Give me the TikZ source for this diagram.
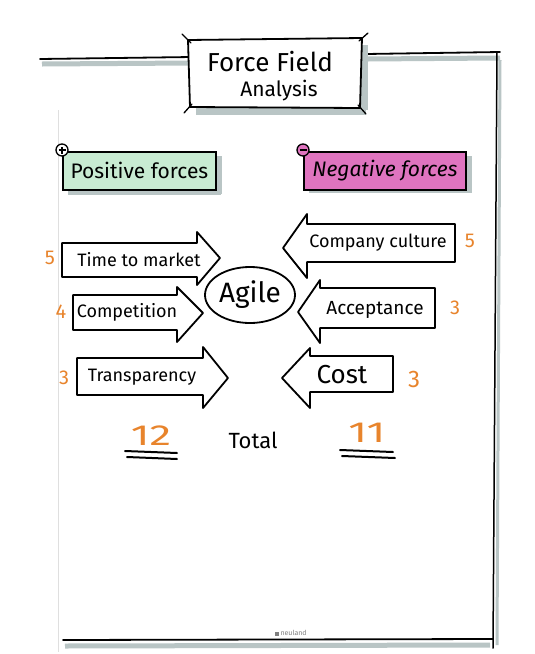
\documentclass[tikz,border=0pt]{standalone}
\usepackage{fontspec}
\setmainfont{Fira Sans}
\usetikzlibrary{shapes.geometric}
\definecolor{orng}{HTML}{E8842C}
\definecolor{shad}{HTML}{B9C5C5}
\definecolor{posg}{HTML}{C8EBD2}
\definecolor{negp}{HTML}{DF74BF}
\begin{document}
\begin{tikzpicture}[x=1pt,y=-1pt,
  ink/.style={draw=black,line width=1.8pt,line join=round,line cap=round},
  shadowline/.style={draw=shad,line width=5pt},
  arrowbox/.style={ink,fill=white},
  lbl/.style={font=\fontsize{18}{20}\selectfont},
  num/.style={text=orng,font=\fontsize{20}{22}\selectfont},
  big/.style={text=orng,font=\fontsize{29}{32}\selectfont},
  headbox/.style={draw,line width=1.8pt,minimum width=153pt,minimum height=38pt,anchor=north west,inner sep=0pt,font=\fontsize{21}{24}\selectfont},
  sign/.style={circle,draw,line width=1.3pt,inner sep=0pt,minimum size=12pt}]
\useasboundingbox (0,0) rectangle (535,654);
\fill[white] (0,0) rectangle (535,654);

% page frame
\draw[shadowline] (42,64) -- (192,63);
\draw[ink] (40,59) -- (192,57);
\draw[shadowline] (368,59) -- (500,58);
\draw[ink] (366,54) -- (500,52);
\draw[shad,line width=3pt] (500,60) -- (497,645);
\draw[ink,line width=1.5pt] (497,52) -- (493,648);
\draw[gray!25,line width=0.6pt] (58,110) -- (58,652);
\draw[shadowline] (65,646) -- (490,645);
\draw[ink] (63,640) -- (493,639);
\node[font=\fontsize{7}{8}\selectfont,text=gray] (logo) at (291,633) {\rule{4pt}{4pt}\,neuland};

% title box
\fill[shad] (196,107) rectangle (366,115);
\fill[shad] (360,45) rectangle (368,110);
\draw[ink,fill=white] (188,40) -- (362,38) -- (360,108) -- (190,107) -- cycle;
\draw[ink,line width=1.3pt] (182,34) -- (191,43);
\draw[ink,line width=1.3pt] (368,33) -- (359,41);
\draw[ink,line width=1.3pt] (184,113) -- (192,104);
\draw[ink,line width=1.3pt] (366,114) -- (358,105);
\node[font=\fontsize{26}{28}\selectfont] (title) at (270,62) {Force Field};
\node[font=\fontsize{21}{23}\selectfont] (title2) at (279,91) {Analysis};

% header boxes
\fill[shad] (68,187) rectangle (221,195);
\fill[shad] (214,156) rectangle (222,194);
\node[headbox,fill=posg] (pos) at (62,151) {Positive forces};
\node[sign,fill=white] (plus) at (62,150) {};
\draw[line width=1.2pt] ([xshift=-3.5pt]plus.center) -- ([xshift=3.5pt]plus.center);
\draw[line width=1.2pt] ([yshift=-3.5pt]plus.center) -- ([yshift=3.5pt]plus.center);
\fill[shad] (309,185) rectangle (472,193);
\fill[shad] (464,156) rectangle (472,192);
\node[headbox,fill=negp,minimum width=162pt] (neg) at (303,151) {\itshape Negative forces};
\node[sign,fill=negp] (minus) at (303,150) {};
\draw[line width=1.2pt] ([xshift=-3.5pt]minus.center) -- ([xshift=3.5pt]minus.center);

% positive arrows
\draw[arrowbox] (62,243) -- (197,243) -- (197,232) -- (220,258) -- (197,285) -- (197,277) -- (62,277) -- cycle;
\node[lbl] (ttm) at (139,260) {Time to market};
\node[num] (n5a) at (50,258) {5};
\draw[arrowbox] (73,295) -- (177,295) -- (177,287) -- (203,313) -- (177,342) -- (177,330) -- (73,330) -- cycle;
\node[lbl] (comp) at (127,312) {Competition};
\node[num] (n4) at (61,312) {4};
\draw[arrowbox] (77,358) -- (203,358) -- (203,347) -- (228,378) -- (203,408) -- (203,395) -- (77,395) -- cycle;
\node[lbl] (trans) at (142,377) {Transparency};
\node[num] (n3a) at (64,378) {3};

% negative arrows
\draw[arrowbox] (455,224) -- (307,224) -- (307,214) -- (283,248) -- (307,278) -- (307,262) -- (455,262) -- cycle;
\node[lbl] (cult) at (378,243) {Company culture};
\node[num] (n5b) at (470,241) {5};
\draw[arrowbox] (435,288) -- (320,288) -- (320,280) -- (298,312) -- (320,343) -- (320,328) -- (435,328) -- cycle;
\node[lbl,font=\fontsize{19}{21}\selectfont] (acc) at (375,310) {Acceptance};
\node[num] (n3b) at (455,308) {3};
\draw[arrowbox] (393,356) -- (310,356) -- (310,348) -- (282,378) -- (310,408) -- (310,392) -- (393,392) -- cycle;
\node[lbl,font=\fontsize{26}{28}\selectfont] (cost) at (342,375) {Cost};
\node[num,font=\fontsize{24}{26}\selectfont] (n3c) at (414,379) {3};

% agile
\node[ellipse,draw,line width=1.8pt,minimum width=90pt,minimum height=56pt,inner sep=0pt,font=\fontsize{28}{30}\selectfont] (agile) at (250,295) {Agile};

% totals
\node[big] (t12) at (151,436) {\scalebox{1.5}[1]{12}};
\draw[ink,line width=2pt] (125,451) -- (177,453);
\draw[ink,line width=2pt] (127,457) -- (177,459);
\node[font=\fontsize{22}{24}\selectfont] (total) at (253,440) {Total};
\node[big] (t11) at (367,433) {\scalebox{1.5}[1]{11}};
\draw[ink,line width=2pt] (340,450) -- (393,452);
\draw[ink,line width=2pt] (342,456) -- (395,458);
\end{tikzpicture}
\end{document}
